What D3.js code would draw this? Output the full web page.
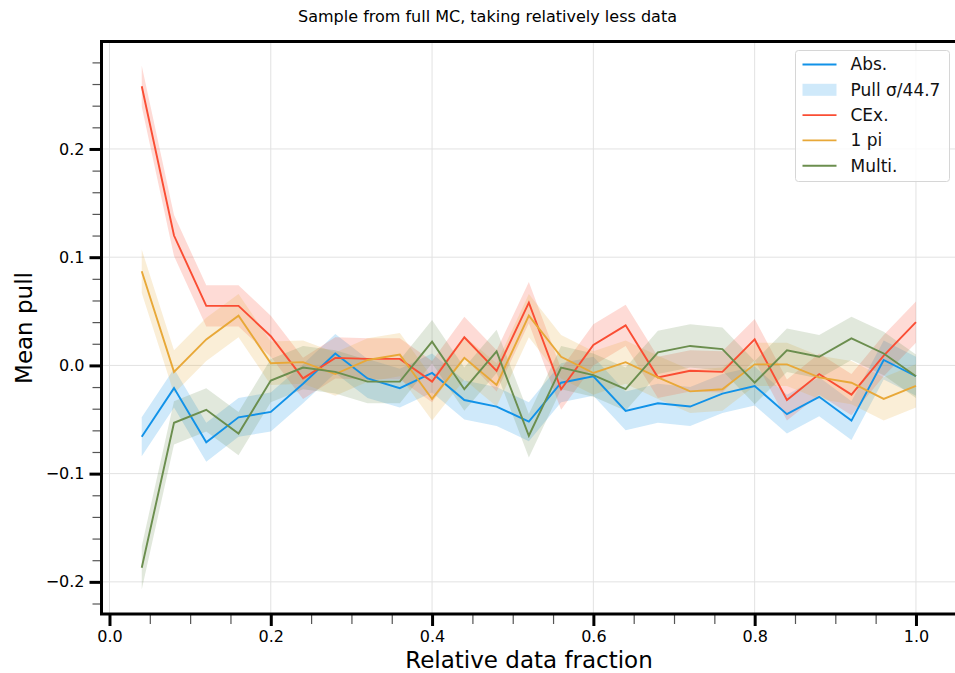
<!DOCTYPE html>
<html>
<head>
<meta charset="utf-8">
<script src="https://cdn.jsdelivr.net/npm/d3@7"></script>
<style>
  body { margin: 0; background: #fff; }
  svg { display: block; font-family: "DejaVu Sans", sans-serif; }
</style>
</head>
<body>
<svg id="chart" width="955" height="673"></svg>
<script>
// Relative data fraction at which each pull was computed
const fractions = [0.04, 0.08, 0.12, 0.16, 0.20, 0.24, 0.28, 0.32, 0.36, 0.40,
                   0.44, 0.48, 0.52, 0.56, 0.60, 0.64, 0.68, 0.72, 0.76, 0.80,
                   0.84, 0.88, 0.92, 0.96, 1.00];

// Mean pull per channel
const absPull   = [-0.066, -0.021, -0.071, -0.048, -0.043, -0.017, 0.011, -0.012, -0.021, -0.007,
                   -0.032, -0.038, -0.052, -0.016, -0.010, -0.042, -0.035, -0.038, -0.026, -0.019,
                   -0.045, -0.029, -0.051, 0.005, -0.010];
const cexPull   = [0.258, 0.120, 0.055, 0.055, 0.027, -0.012, 0.007, 0.006, 0.006, -0.015,
                   0.026, -0.005, 0.058, -0.022, 0.019, 0.037, -0.011, -0.005, -0.006, 0.024,
                   -0.032, -0.008, -0.027, 0.009, 0.040];
const onePiPull = [0.087, -0.006, 0.024, 0.046, 0.002, 0.003, -0.008, 0.005, 0.010, -0.031,
                   0.007, -0.018, 0.046, 0.008, -0.007, 0.003, -0.011, -0.024, -0.022, 0.001,
                   0.001, -0.011, -0.016, -0.031, -0.019];
const multiPull = [-0.187, -0.053, -0.041, -0.063, -0.014, -0.002, -0.006, -0.015, -0.015, 0.022,
                   -0.022, 0.013, -0.065, -0.002, -0.009, -0.022, 0.012, 0.018, 0.015, -0.016,
                   0.014, 0.008, 0.025, 0.011, -0.010];

// Half-width of the shaded band (pull sigma / 44.7) per channel
const bandWidths = [0.018, 0.019, 0.020, 0.020];

const seriesNames  = ["Abs.", "CEx.", "1 pi", "Multi."];
const seriesColors = ["#1192e8", "#fa4d33", "#e8a838", "#6b8e4e"];
const seriesValues = [absPull, cexPull, onePiPull, multiPull];

const xTickValues = [0.0, 0.2, 0.4, 0.6, 0.8, 1.0];
const yTickValues = [-0.2, -0.1, 0.0, 0.1, 0.2];

const svg = d3.select("#chart");
const plotLeft = 101.5, plotRight = 960, plotTop = 41.5, plotBottom = 614;

const x = d3.scaleLinear().domain([-0.0099, 1.0546]).range([plotLeft, plotRight]);
const y = d3.scaleLinear().domain([-0.2297, 0.2993]).range([plotBottom, plotTop]);

// Grid
const grid = svg.append("g");
grid.selectAll("line.gx").data(xTickValues).join("line")
  .attr("class", "gx")
  .attr("x1", d => x(d)).attr("x2", d => x(d))
  .attr("y1", plotTop).attr("y2", plotBottom)
  .attr("stroke", "#e2e2e2").attr("stroke-width", 1);
grid.selectAll("line.gy").data(yTickValues).join("line")
  .attr("class", "gy")
  .attr("x1", plotLeft).attr("x2", plotRight)
  .attr("y1", d => y(d)).attr("y2", d => y(d))
  .attr("stroke", "#e2e2e2").attr("stroke-width", 1);

// Bands then lines
const plot = svg.append("g");
seriesValues.forEach((vals, i) => {
  const pts = fractions.map((f, k) => ({ f, v: vals[k] }));
  const area = d3.area()
    .x(d => x(d.f))
    .y0(d => y(d.v - bandWidths[i]))
    .y1(d => y(d.v + bandWidths[i]));
  plot.append("path").datum(pts)
    .attr("d", area)
    .attr("fill", seriesColors[i])
    .attr("fill-opacity", 0.2)
    .attr("stroke", "none");
});
seriesValues.forEach((vals, i) => {
  const pts = fractions.map((f, k) => ({ f, v: vals[k] }));
  const line = d3.line().x(d => x(d.f)).y(d => y(d.v));
  plot.append("path").datum(pts)
    .attr("d", line)
    .attr("fill", "none")
    .attr("stroke", seriesColors[i])
    .attr("stroke-width", 1.9);
});

// Axes
const xMinorValues = d3.range(1, 21).map(k => k * 0.05).filter((v, k) => (k + 1) % 4 !== 0);
const yMinorValues = d3.range(-11, 15).map(k => k * 0.02).filter((v, k) => (k - 11) % 5 !== 0);

const xAxis = d3.axisBottom(x).tickValues(xTickValues).tickFormat(d3.format(".1f"))
  .tickSize(12).tickPadding(5);
const xMinor = d3.axisBottom(x).tickValues(xMinorValues).tickSize(10).tickFormat("");
const yAxis = d3.axisLeft(y).tickValues(yTickValues).tickFormat(d3.format(".1f"))
  .tickSize(12).tickPadding(5);
const yMinor = d3.axisLeft(y).tickValues(yMinorValues).tickSize(9).tickFormat("");

function styleMinor(g) {
  g.select(".domain").remove();
  g.selectAll(".tick line").attr("stroke", "#555").attr("stroke-width", 1.2);
}
function styleMajor(g) {
  g.select(".domain").remove();
  g.selectAll(".tick line").attr("stroke", "#000").attr("stroke-width", 3);
  g.selectAll(".tick text").attr("font-size", 16).attr("fill", "#000")
    .attr("font-family", "DejaVu Sans, sans-serif");
}

svg.append("g").attr("transform", `translate(0,${plotBottom})`).call(xMinor).call(styleMinor);
svg.append("g").attr("transform", `translate(0,${plotBottom})`).call(xAxis).call(styleMajor);
svg.append("g").attr("transform", `translate(${plotLeft},0)`).call(yMinor).call(styleMinor);
svg.append("g").attr("transform", `translate(${plotLeft},0)`).call(yAxis).call(styleMajor);

// Spines
svg.append("rect")
  .attr("x", plotLeft).attr("y", plotTop)
  .attr("width", plotRight - plotLeft).attr("height", plotBottom - plotTop)
  .attr("fill", "none").attr("stroke", "#000").attr("stroke-width", 3);

// Labels
svg.append("text").attr("x", 487.5).attr("y", 22)
  .attr("text-anchor", "middle").attr("font-size", 16).text("Sample from full MC, taking relatively less data");
svg.append("text").attr("x", 529).attr("y", 668)
  .attr("text-anchor", "middle").attr("font-size", 23).text("Relative data fraction");
svg.append("text").attr("transform", "translate(32,328) rotate(-90)")
  .attr("text-anchor", "middle").attr("font-size", 23).text("Mean pull");

// Legend
const lg = svg.append("g").attr("transform", "translate(795.5,50.5)");
lg.append("rect").attr("width", 154).attr("height", 131).attr("rx", 3)
  .attr("fill", "#fff").attr("fill-opacity", 0.8)
  .attr("stroke", "#d6d6d6").attr("stroke-width", 1);
const entries = [
  { label: seriesNames[0], color: seriesColors[0], kind: "line" },
  { label: "Pull \u03c3/44.7", color: seriesColors[0], kind: "patch" },
  { label: seriesNames[1], color: seriesColors[1], kind: "line" },
  { label: seriesNames[2], color: seriesColors[2], kind: "line" },
  { label: seriesNames[3], color: seriesColors[3], kind: "line" }
];
entries.forEach((e, i) => {
  const cy = 14 + i * 25.3;
  if (e.kind === "line") {
    lg.append("line").attr("x1", 7).attr("x2", 41).attr("y1", cy).attr("y2", cy)
      .attr("stroke", e.color).attr("stroke-width", 1.9);
  } else {
    lg.append("rect").attr("x", 7).attr("y", cy - 6).attr("width", 34).attr("height", 12)
      .attr("fill", e.color).attr("fill-opacity", 0.2);
  }
  lg.append("text").attr("x", 55).attr("y", cy).attr("dy", "0.35em")
    .attr("font-size", 17).attr("fill", "#111").text(e.label);
});
</script>
</body>
</html>
